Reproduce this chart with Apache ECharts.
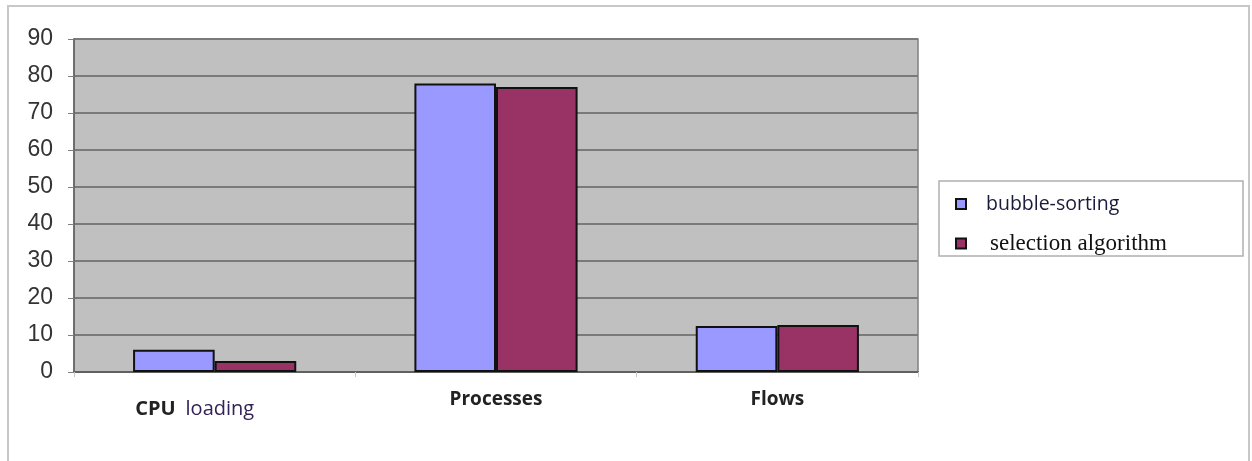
<!DOCTYPE html>
<html><head><meta charset="utf-8">
<script src="https://cdn.jsdelivr.net/npm/echarts@6/dist/echarts.min.js"></script>
<style>html,body{margin:0;padding:0;background:#fff}#c{width:1252px;height:461px}</style>
</head><body><div id="c"></div>
<script>
const categories = ['CPU loading', 'Processes', 'Flows'];
const bubbleSorting = [6, 78, 12.4];
const selectionAlgorithm = [3, 77, 12.7];
const yTicks = [0, 10, 20, 30, 40, 50, 60, 70, 80, 90];

const chart = echarts.init(document.getElementById('c'), null, {renderer: 'canvas'});
chart.setOption({
  animation: false,
  backgroundColor: '#ffffff',
  graphic: [
    {type: 'rect', shape: {x: 8, y: 6, width: 1241, height: 470}, style: {fill: 'none', stroke: '#c8c8c8', lineWidth: 2}, silent: true},
    {type: 'rect', shape: {x: 939, y: 181, width: 304, height: 75}, style: {fill: '#ffffff', stroke: '#b0b0b0', lineWidth: 1.5}, z: 0, silent: true}
  ],
  grid: {left: 74, top: 39, width: 844, height: 333, show: true, backgroundColor: '#c0c0c0', borderColor: '#808080', borderWidth: 1.5, containLabel: false},
  legend: {
    orient: 'vertical', left: 950, top: 189, itemWidth: 10, itemHeight: 10, itemGap: 18,
    icon: 'rect',
    data: ['bubble-sorting', 'selection algorithm'],
    formatter: n => n === 'bubble-sorting' ? '{a|' + n + '}' : '{b|' + n + '}',
    textStyle: {
      rich: {
        a: {fontFamily: 'Open Sans', fontSize: 19.5, color: '#1a1a3a', padding: [0, 0, 0, 15], lineHeight: 22},
        b: {fontFamily: 'Liberation Serif', fontSize: 23, color: '#111', padding: [0, 0, 0, 19], lineHeight: 22}
      }
    }
  },
  xAxis: {
    type: 'category', data: categories,
    axisLine: {lineStyle: {color: '#606060', width: 2}},
    axisTick: {show: true, length: 5, lineStyle: {color: '#c8c8c8'}},
    axisLabel: {
      margin: 18, interval: 0,
      formatter: v => v === 'CPU loading' ? '{c|CPU}{l|loading}' : (v === 'Flows' ? '{f|' + v + '}' : '{p|' + v + '}'),
      rich: {
        c: {fontFamily: 'Open Sans', fontWeight: 'bold', fontSize: 20, color: '#222', padding: [9, 0, 0, 0]},
        l: {fontFamily: 'Open Sans', fontSize: 20, color: '#332255', padding: [9, 40, 0, 10]},
        p: {fontFamily: 'Open Sans', fontWeight: 'bold', fontSize: 19, color: '#222'},
        f: {fontFamily: 'Open Sans', fontWeight: 'bold', fontSize: 19, color: '#222', padding: [0, 0, 3, 0]}
      }
    }
  },
  yAxis: {
    type: 'value', min: 0, max: 90, interval: 10,
    axisLine: {show: true, lineStyle: {color: '#606060', width: 1.5}},
    axisTick: {show: true, length: 6, lineStyle: {color: '#808080'}},
    axisLabel: {fontFamily: 'Liberation Sans', fontSize: 23, color: '#333', margin: 21,
      formatter: v => yTicks.includes(v) ? String(v) : ''},
    splitLine: {show: true, lineStyle: {color: '#7a7a7a', width: 2}}
  },
  series: [
    {name: 'bubble-sorting', type: 'bar', data: bubbleSorting, barGap: '0%', barCategoryGap: '42%',
      itemStyle: {color: '#9999ff', borderColor: '#111', borderWidth: 2}},
    {name: 'selection algorithm', type: 'bar', data: selectionAlgorithm,
      itemStyle: {color: '#993366', borderColor: '#111', borderWidth: 2}}
  ]
});
</script></body></html>
